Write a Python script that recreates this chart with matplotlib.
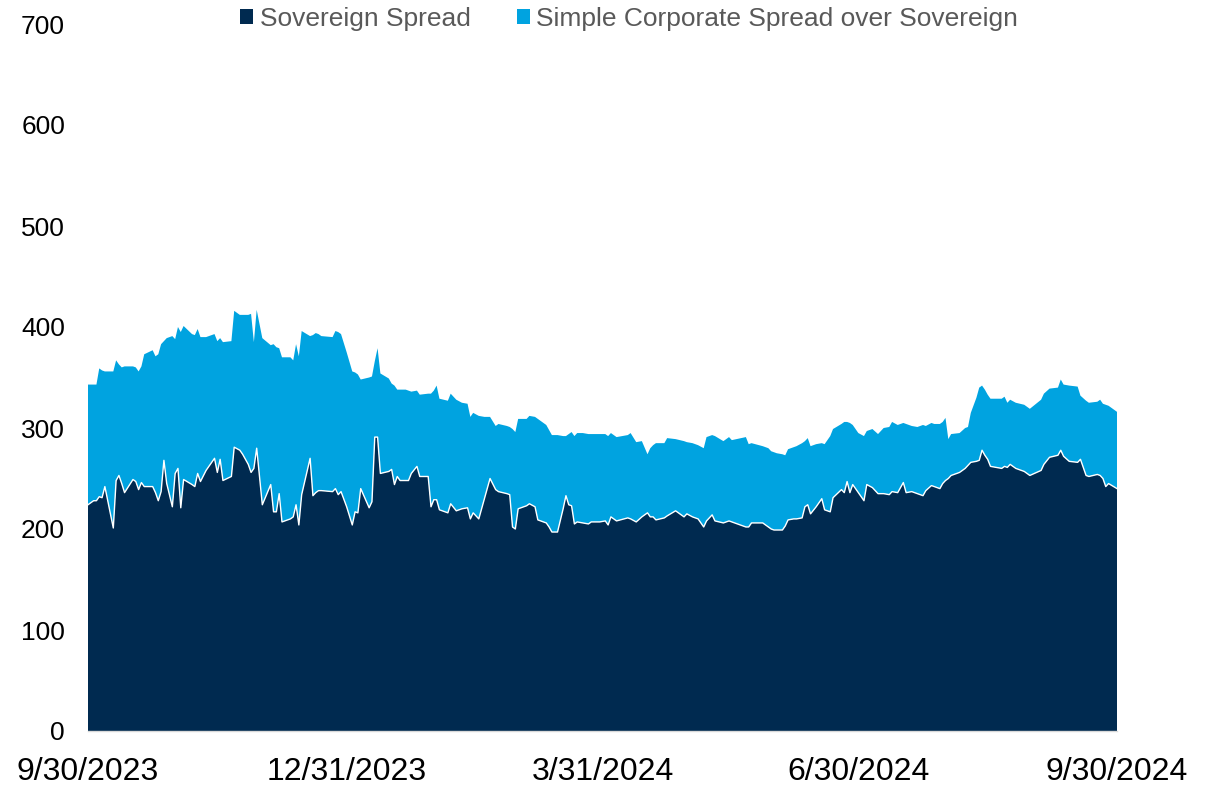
import matplotlib
matplotlib.use("Agg")
import matplotlib.pyplot as plt
from matplotlib.patches import Patch
import pandas as pd

plt.rcParams['font.family'] = ['Liberation Sans', 'DejaVu Sans']

dates = [
    "2023-09-30", "2023-10-02", "2023-10-03", "2023-10-04", "2023-10-05", "2023-10-06", "2023-10-09", "2023-10-10",
    "2023-10-11", "2023-10-12", "2023-10-13", "2023-10-16", "2023-10-17", "2023-10-18", "2023-10-19", "2023-10-20",
    "2023-10-23", "2023-10-24", "2023-10-25", "2023-10-26", "2023-10-27", "2023-10-28", "2023-10-30", "2023-10-31",
    "2023-11-01", "2023-11-02", "2023-11-03", "2023-11-06", "2023-11-07", "2023-11-08", "2023-11-09", "2023-11-11",
    "2023-11-14", "2023-11-15", "2023-11-16", "2023-11-17", "2023-11-20", "2023-11-21", "2023-11-23", "2023-11-24",
    "2023-11-26", "2023-11-27", "2023-11-28", "2023-11-29", "2023-12-01", "2023-12-04", "2023-12-05", "2023-12-06",
    "2023-12-07", "2023-12-08", "2023-12-11", "2023-12-12", "2023-12-13", "2023-12-14", "2023-12-15", "2023-12-18",
    "2023-12-19", "2023-12-20", "2023-12-21", "2023-12-22", "2023-12-26", "2023-12-27", "2023-12-28", "2023-12-29",
    "2023-12-31", "2024-01-02", "2024-01-03", "2024-01-04", "2024-01-05", "2024-01-08", "2024-01-09", "2024-01-10",
    "2024-01-11", "2024-01-12", "2024-01-15", "2024-01-16", "2024-01-17", "2024-01-18", "2024-01-19", "2024-01-21",
    "2024-01-22", "2024-01-23", "2024-01-25", "2024-01-26", "2024-01-29", "2024-01-30", "2024-01-31", "2024-02-01",
    "2024-02-02", "2024-02-05", "2024-02-06", "2024-02-08", "2024-02-10", "2024-02-12", "2024-02-13", "2024-02-14",
    "2024-02-16", "2024-02-18", "2024-02-20", "2024-02-22", "2024-02-23", "2024-02-26", "2024-02-27", "2024-02-28",
    "2024-02-29", "2024-03-01", "2024-03-04", "2024-03-05", "2024-03-07", "2024-03-08", "2024-03-11", "2024-03-12",
    "2024-03-13", "2024-03-15", "2024-03-17", "2024-03-18", "2024-03-19", "2024-03-20", "2024-03-21", "2024-03-22",
    "2024-03-24", "2024-03-26", "2024-03-27", "2024-03-30", "2024-04-01", "2024-04-02", "2024-04-03", "2024-04-05",
    "2024-04-09", "2024-04-10", "2024-04-12", "2024-04-14", "2024-04-16", "2024-04-17", "2024-04-18", "2024-04-19",
    "2024-04-22", "2024-04-23", "2024-04-26", "2024-04-29", "2024-04-30", "2024-05-02", "2024-05-04", "2024-05-06",
    "2024-05-07", "2024-05-09", "2024-05-10", "2024-05-13", "2024-05-15", "2024-05-16", "2024-05-21", "2024-05-22",
    "2024-05-23", "2024-05-27", "2024-05-29", "2024-05-30", "2024-05-31", "2024-06-01", "2024-06-03", "2024-06-04",
    "2024-06-05", "2024-06-07", "2024-06-08", "2024-06-10", "2024-06-11", "2024-06-12", "2024-06-13", "2024-06-15",
    "2024-06-17", "2024-06-18", "2024-06-20", "2024-06-21", "2024-06-24", "2024-06-25", "2024-06-26", "2024-06-27",
    "2024-06-28", "2024-06-30", "2024-07-02", "2024-07-03", "2024-07-05", "2024-07-07", "2024-07-09", "2024-07-11",
    "2024-07-12", "2024-07-14", "2024-07-16", "2024-07-17", "2024-07-19", "2024-07-21", "2024-07-23", "2024-07-24",
    "2024-07-26", "2024-07-27", "2024-07-29", "2024-07-30", "2024-07-31", "2024-08-01", "2024-08-02", "2024-08-05",
    "2024-08-07", "2024-08-08", "2024-08-09", "2024-08-11", "2024-08-12", "2024-08-13", "2024-08-14", "2024-08-15",
    "2024-08-16", "2024-08-20", "2024-08-21", "2024-08-22", "2024-08-23", "2024-08-25", "2024-08-28", "2024-08-30",
    "2024-09-03", "2024-09-04", "2024-09-06", "2024-09-09", "2024-09-10", "2024-09-11", "2024-09-13", "2024-09-16",
    "2024-09-17", "2024-09-19", "2024-09-20", "2024-09-23", "2024-09-24", "2024-09-25", "2024-09-26", "2024-09-27",
    "2024-09-30",
]

sovereign_spread = [
    224, 228, 228, 232, 231, 242, 201, 248, 253, 245, 236, 249, 247, 239, 246, 242,
    242, 236, 228, 237, 268, 245, 222, 255, 260, 221, 249, 244, 242, 255, 247, 258,
    270, 256, 269, 248, 252, 281, 278, 274, 264, 256, 260, 280, 224, 244, 217, 217,
    235, 207, 210, 212, 224, 204, 234, 270, 233, 236, 238, 238, 237, 240, 234, 237,
    222, 204, 217, 216, 240, 221, 227, 291, 291, 255, 257, 259, 244, 252, 248, 248,
    248, 255, 262, 252, 252, 222, 229, 229, 219, 216, 225, 218, 220, 221, 210, 216,
    210, 230, 250, 239, 237, 235, 234, 202, 200, 220, 223, 225, 222, 209, 206, 202,
    197, 197, 220, 233, 224, 223, 205, 207, 206, 205, 207, 207, 208, 204, 212, 208,
    211, 210, 207, 212, 216, 212, 212, 209, 211, 213, 218, 212, 215, 212, 210, 202,
    208, 214, 208, 206, 208, 207, 202, 202, 206, 206, 202, 200, 199, 199, 199, 203,
    209, 210, 210, 211, 222, 224, 215, 222, 230, 219, 217, 231, 239, 236, 247, 236,
    244, 236, 228, 244, 241, 235, 235, 234, 237, 236, 246, 236, 237, 235, 233, 238,
    243, 242, 240, 245, 248, 250, 253, 256, 260, 263, 266, 267, 268, 278, 273, 269,
    262, 260, 262, 261, 264, 260, 257, 253, 258, 264, 271, 273, 278, 272, 267, 266,
    269, 253, 252, 254, 253, 250, 242, 245, 240,
]

corporate_over_sovereign = [
    119, 115, 115, 127, 126, 114, 155, 119, 110, 115, 125, 112, 113, 117, 115, 131,
    135, 135, 145, 146, 118, 144, 169, 133, 140, 174, 152, 149, 150, 143, 143, 132,
    123, 130, 120, 137, 134, 135, 134, 138, 148, 157, 125, 137, 165, 138, 166, 163,
    144, 163, 160, 155, 159, 167, 162, 121, 159, 158, 155, 153, 153, 156, 161, 156,
    153, 152, 138, 137, 108, 129, 124, 75, 88, 99, 92, 85, 98, 86, 90, 90,
    89, 81, 75, 81, 82, 112, 108, 113, 110, 111, 109, 110, 105, 103, 101, 99,
    102, 81, 61, 63, 67, 67, 67, 97, 96, 89, 86, 87, 89, 100, 97, 96,
    96, 96, 72, 59, 70, 73, 87, 88, 89, 89, 87, 87, 86, 88, 83, 83,
    82, 85, 79, 75, 58, 68, 71, 76, 74, 77, 71, 75, 71, 73, 73, 78,
    83, 79, 84, 81, 83, 81, 89, 82, 79, 76, 78, 77, 77, 76, 75, 70,
    70, 71, 72, 74, 65, 66, 67, 62, 55, 65, 75, 68, 65, 70, 59, 69,
    59, 59, 64, 53, 58, 59, 65, 67, 69, 67, 59, 68, 65, 66, 70, 64,
    62, 62, 64, 61, 62, 39, 41, 39, 40, 38, 49, 63, 72, 64, 65, 64,
    67, 69, 69, 64, 64, 65, 66, 66, 70, 70, 68, 67, 70, 71, 75, 75,
    63, 74, 73, 72, 75, 74, 81, 77, 76,
]

series_labels = ["Sovereign Spread", "Simple Corporate Spread over Sovereign"]
tick_dates = ["2023-09-30", "2023-12-31", "2024-03-31", "2024-06-30", "2024-09-30"]
tick_labels = ["9/30/2023", "12/31/2023", "3/31/2024", "6/30/2024", "9/30/2024"]
y_ticks = [0, 100, 200, 300, 400, 500, 600, 700]

NAVY = "#002A50"
LIGHT = "#00A3E0"

x = pd.to_datetime(dates)
fig = plt.figure(figsize=(12.23, 7.88), dpi=100)
ax = fig.add_axes([88 / 1223, 57 / 788, 1029 / 1223, 707 / 788])

ax.stackplot(x, sovereign_spread, corporate_over_sovereign,
             colors=[NAVY, LIGHT], linewidth=0)
ax.plot(x, sovereign_spread, color="white", lw=1.0)

ax.set_xlim(pd.Timestamp(tick_dates[0]), pd.Timestamp(tick_dates[-1]))
ax.set_ylim(0, 700)
ax.set_yticks(y_ticks)
ax.set_yticklabels([str(v) for v in y_ticks], fontsize=19, color="black")
ax.set_xticks(pd.to_datetime(tick_dates))
ax.set_xticklabels(tick_labels, fontsize=23, color="black")
ax.tick_params(axis="y", length=0, pad=16.5)
ax.tick_params(axis="x", length=0, pad=19)

for s in ["top", "right", "left"]:
    ax.spines[s].set_visible(False)
ax.spines["bottom"].set_color("#D9D9D9")
ax.spines["bottom"].set_linewidth(1.0)
ax.spines["bottom"].set_zorder(5)

handles = [Patch(facecolor=NAVY, edgecolor="none"), Patch(facecolor=LIGHT, edgecolor="none")]
leg = fig.legend(handles, series_labels, loc="center", bbox_to_anchor=(629 / 1223, 1 - 19 / 788),
                 ncol=2, frameon=False, fontsize=19, handlelength=0.5, handleheight=0.5,
                 handletextpad=0.25, columnspacing=1.75, borderpad=0, borderaxespad=0)
for t in leg.get_texts():
    t.set_color("#595959")

fig.savefig("out.png", dpi=100)
